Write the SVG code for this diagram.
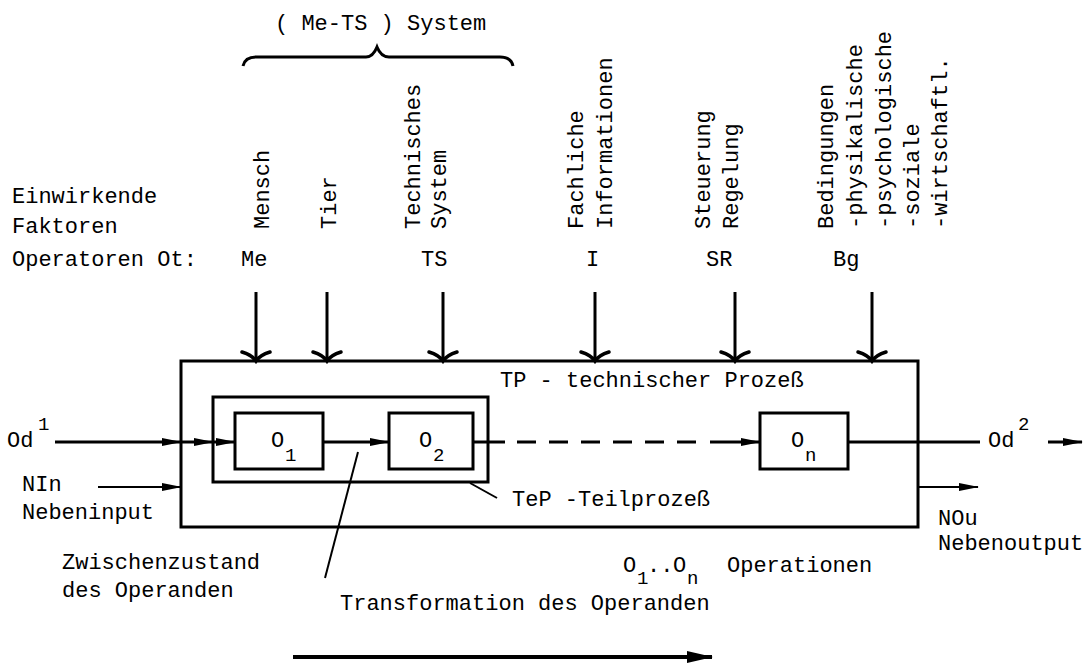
<svg xmlns="http://www.w3.org/2000/svg" width="1085" height="664" viewBox="0 0 1085 664">
<style>
text{font-family:"Liberation Mono","DejaVu Sans Mono",monospace;font-size:22px;fill:#000}
.sub{font-size:19px}
.box{fill:none;stroke:#000;stroke-width:3}
.ln{fill:none;stroke:#000;stroke-width:3}
.thin{fill:none;stroke:#000;stroke-width:2}
.ah{fill:none;stroke:#000;stroke-width:3.5;stroke-linecap:round}
</style>
<defs>
<marker id="a" markerUnits="userSpaceOnUse" markerWidth="20" markerHeight="10" refX="19" refY="5" orient="auto"><path d="M0,1 L20,5 L0,9 Z" fill="#000"/></marker>
<marker id="b" markerUnits="userSpaceOnUse" markerWidth="26" markerHeight="14" refX="25" refY="7" orient="auto"><path d="M0,1 L26,7 L0,13 Z" fill="#000"/></marker>
<path id="ah" class="ah" d="M-14,-9 Q-4,-6 0,0 Q4,-6 14,-9"/>
</defs>

<g id="header">
<text x="275" y="30">( Me-TS ) System</text>
<path class="ln" d="M243,66 Q245,57 256,57 L366,57 Q373,57 377,47 Q381,57 389,57 L500,57 Q511,57 513,66"/>
</g>

<g id="factors">
<text x="12" y="203">Einwirkende</text>
<text x="12" y="233">Faktoren</text>
<text x="12" y="266">Operatoren Ot:</text>
<text transform="translate(269,229) rotate(-90)">Mensch</text>
<text transform="translate(336,229) rotate(-90)">Tier</text>
<text transform="translate(420,229) rotate(-90)">Technisches</text>
<text transform="translate(446,229) rotate(-90)">System</text>
<text transform="translate(583,229) rotate(-90)">Fachliche</text>
<text transform="translate(612,229) rotate(-90)">Informationen</text>
<text transform="translate(710,229) rotate(-90)">Steuerung</text>
<text transform="translate(738,229) rotate(-90)">Regelung</text>
<text transform="translate(833,229) rotate(-90)">Bedingungen</text>
<text transform="translate(862,229) rotate(-90)">-physikalische</text>
<text transform="translate(891,229) rotate(-90)">-psychologische</text>
<text transform="translate(919,229) rotate(-90)">-soziale</text>
<text transform="translate(947,229) rotate(-90)">-wirtschaftl.</text>
<text x="241" y="266">Me</text>
<text x="421" y="266">TS</text>
<text x="586" y="266">I</text>
<text x="706" y="266">SR</text>
<text x="833" y="266">Bg</text>
</g>

<g id="tp">
<rect class="box" x="181" y="361" width="737" height="166"/>
<text x="500" y="387">TP - technischer Prozeß</text>
</g>
<g id="tep">
<rect class="box" x="213" y="397" width="275" height="85"/>
<text x="512" y="506">TeP -Teilprozeß</text>
</g>
<g id="o1">
<rect class="box" x="235" y="413" width="88" height="56"/>
<text x="271" y="447">O</text><text class="sub" x="285" y="461">1</text>
</g>
<g id="o2">
<rect class="box" x="389" y="413" width="84" height="56"/>
<text x="419" y="447">O</text><text class="sub" x="433" y="461">2</text>
</g>
<g id="on">
<rect class="box" x="760" y="413" width="88" height="56"/>
<text x="791" y="447">O</text><text class="sub" x="805" y="461">n</text>
</g>

<g id="labels">
<text x="7" y="447">Od</text><text class="sub" x="38" y="430">1</text>
<text x="988" y="447">Od</text><text class="sub" x="1018" y="430">2</text>
<text x="22" y="491">NIn</text>
<text x="22" y="519">Nebeninput</text>
<text x="938" y="525">NOu</text>
<text x="938" y="550">Nebenoutput</text>
<text x="62" y="569">Zwischenzustand</text>
<text x="62" y="597">des Operanden</text>
<text x="623" y="572">O</text><text class="sub" x="637" y="584">1</text>
<text x="647" y="572">..</text>
<text x="673" y="572">O</text><text class="sub" x="687" y="584">n</text>
<text x="727" y="572">Operationen</text>
<text x="340" y="610">Transformation des Operanden</text>
</g>

<g id="connectors">
<line class="ln" x1="256" y1="292" x2="256" y2="360"/>
<line class="ln" x1="327" y1="292" x2="327" y2="360"/>
<line class="ln" x1="443" y1="292" x2="443" y2="360"/>
<line class="ln" x1="595" y1="292" x2="595" y2="360"/>
<line class="ln" x1="735" y1="292" x2="735" y2="360"/>
<line class="ln" x1="872" y1="292" x2="872" y2="360"/>
<use href="#ah" x="256" y="361"/>
<use href="#ah" x="327" y="361"/>
<use href="#ah" x="443" y="361"/>
<use href="#ah" x="595" y="361"/>
<use href="#ah" x="735" y="361"/>
<use href="#ah" x="872" y="361"/>

<line class="ln" x1="55" y1="442" x2="181" y2="442" marker-end="url(#a)"/>
<line class="ln" x1="181" y1="442" x2="213" y2="442" marker-end="url(#a)"/>
<line class="ln" x1="213" y1="442" x2="235" y2="442" marker-end="url(#a)"/>
<line class="ln" x1="323" y1="442" x2="389" y2="442" marker-end="url(#a)"/>
<line class="ln" x1="473" y1="442" x2="505" y2="442"/>
<line class="ln" x1="517" y1="442" x2="700" y2="442" stroke-dasharray="19 13"/>
<line class="ln" x1="710" y1="442" x2="760" y2="442" marker-end="url(#a)"/>
<line class="ln" x1="848" y1="442" x2="980" y2="442"/>
<line class="ln" x1="1048" y1="442" x2="1082" y2="442" marker-end="url(#a)"/>
<line class="thin" x1="98" y1="487" x2="181" y2="487" marker-end="url(#a)"/>
<line class="thin" x1="918" y1="487" x2="978" y2="487" marker-end="url(#a)"/>
<line class="thin" x1="358" y1="452" x2="325" y2="578"/>
<line class="thin" x1="470" y1="483" x2="497" y2="498"/>
<line x1="293" y1="657" x2="712" y2="657" stroke="#000" stroke-width="4" marker-end="url(#b)"/>
</g>
</svg>
